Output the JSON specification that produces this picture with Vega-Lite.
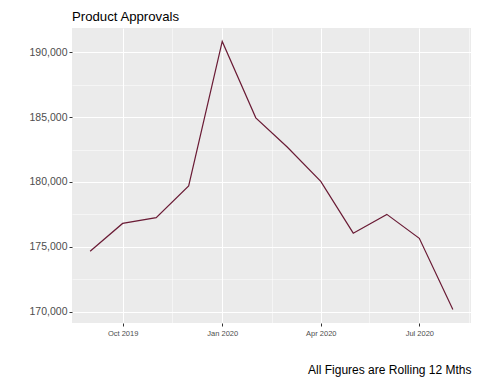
{
  "$schema": "https://vega.github.io/schema/vega-lite/v6.json",
  "autosize": {"type": "none"},
  "padding": {"left": 72, "top": 28, "right": 9, "bottom": 61},
  "width": 399,
  "height": 295,
  "background": "white",
  "title": {
    "text": "Product Approvals",
    "anchor": "start",
    "frame": "group",
    "baseline": "alphabetic",
    "offset": -6,
    "font": "Liberation Sans",
    "fontSize": 13.2,
    "fontWeight": "normal",
    "color": "black"
  },
  "config": {
    "view": {"fill": "#EBEBEB", "stroke": null},
    "axis": {"domain": false, "labelFont": "Liberation Sans", "titleFont": "Liberation Sans", "gridColor": "white", "tickColor": "#333333", "tickSize": 3, "tickWidth": 1, "labelColor": "#4D4D4D"}
  },
  "data": {
    "values": [
      {"month": "2019-09-01", "approvals": 174650},
      {"month": "2019-10-01", "approvals": 176800},
      {"month": "2019-11-01", "approvals": 177250},
      {"month": "2019-12-01", "approvals": 179700},
      {"month": "2020-01-01", "approvals": 190850},
      {"month": "2020-02-01", "approvals": 184950},
      {"month": "2020-03-01", "approvals": 182700},
      {"month": "2020-04-01", "approvals": 180050},
      {"month": "2020-05-01", "approvals": 176050},
      {"month": "2020-06-01", "approvals": 177500},
      {"month": "2020-07-01", "approvals": 175650},
      {"month": "2020-08-01", "approvals": 170150}
    ]
  },
  "mark": {"type": "line", "color": "#6A1B35", "strokeWidth": 1.2},
  "encoding": {
    "x": {
      "field": "month",
      "type": "temporal",
      "scale": {"type": "utc", "domain": [{"year": 2019, "month": 8, "date": 15, "hours": 6, "utc": true}, {"year": 2020, "month": 8, "date": 17, "hours": 18, "utc": true}]},
      "axis": {
        "title": "All Figures are Rolling 12 Mths",
        "titleAnchor": "end",
        "titleFontSize": 12,
        "titleFontWeight": "normal",
        "titleColor": "black",
        "titlePadding": 28,
        "values": [
          {"year": 2019, "month": 10, "date": 1, "utc": true},
          {"year": 2019, "month": 11, "date": 16, "utc": true},
          {"year": 2020, "month": 1, "date": 1, "utc": true},
          {"year": 2020, "month": 2, "date": 15, "hours": 12, "utc": true},
          {"year": 2020, "month": 4, "date": 1, "utc": true},
          {"year": 2020, "month": 5, "date": 16, "utc": true},
          {"year": 2020, "month": 7, "date": 1, "utc": true},
          {"year": 2020, "month": 8, "date": 16, "utc": true}
        ],
        "labelExpr": "utcdate(datum.value) == 1 ? utcFormat(datum.value, '%b %Y') : ''",
        "labelFontSize": 7.5,
        "labelPadding": 3,
        "tickOpacity": {"condition": {"test": "utcdate(datum.value) == 1", "value": 1}, "value": 0},
        "gridWidth": {"condition": {"test": "utcdate(datum.value) == 1", "value": 1.07}, "value": 0.53}
      }
    },
    "y": {
      "field": "approvals",
      "type": "quantitative",
      "scale": {"domain": [169115, 191885], "nice": false, "zero": false},
      "axis": {
        "title": null,
        "values": [170000, 172500, 175000, 177500, 180000, 182500, 185000, 187500, 190000],
        "labelExpr": "datum.value % 5000 == 0 ? format(datum.value, ',') : ''",
        "labelFontSize": 10.5,
        "labelPadding": 2,
        "tickOpacity": {"condition": {"test": "datum.value % 5000 == 0", "value": 1}, "value": 0},
        "gridWidth": {"condition": {"test": "datum.value % 5000 == 0", "value": 1.07}, "value": 0.53}
      }
    }
  }
}
